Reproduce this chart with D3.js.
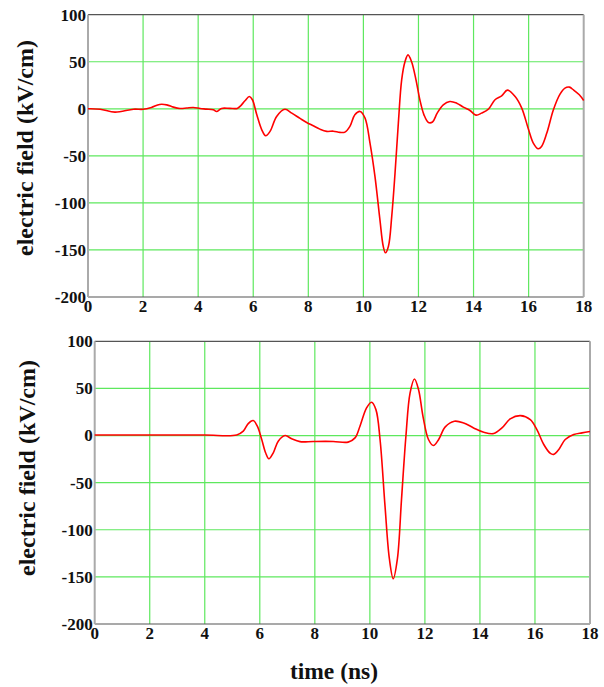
<!DOCTYPE html>
<html>
<head>
<meta charset="utf-8">
<script src="https://cdn.jsdelivr.net/npm/d3@7"></script>
<style>
  body { margin: 0; background: #fff; }
  svg text { font-family: "Liberation Serif", "Times New Roman", serif; font-weight: bold; fill: #111; }
</style>
</head>
<body>
<div id="chart"></div>
<script>

// ticks
const xTicks = [0, 2, 4, 6, 8, 10, 12, 14, 16, 18];
const yTicks = [100, 50, 0, -50, -100, -150, -200];

// top panel (measured), time in ns / field in kV/cm
const measuredT = [0, 0.44, 0.98, 1.65, 2.0, 2.3, 2.6, 2.86, 3.1, 3.34, 3.58, 3.82, 4.07, 4.3, 4.55, 4.67, 4.85, 5.15, 5.42,
  5.52, 5.7, 5.86, 5.97, 6.13, 6.31, 6.45, 6.61, 6.85, 7.15, 7.4, 7.7, 7.94, 8.18, 8.42, 8.67, 8.91, 9.15, 9.33, 9.51,
  9.69, 9.88, 10.06, 10.24, 10.42, 10.6, 10.72, 10.8, 10.91, 11.03, 11.15, 11.27, 11.39, 11.51, 11.62, 11.75, 11.91,
  12.05, 12.2, 12.36, 12.51, 12.68, 12.9, 13.14, 13.39, 13.63, 13.87, 14.09, 14.29, 14.54, 14.78, 15.02, 15.23, 15.51,
  15.75, 16.0, 16.17, 16.35, 16.47, 16.66, 16.9, 17.14, 17.32, 17.48, 17.63, 17.84, 18.0];
const measuredE = [0, -0.4, -3.5, -0.4, -0.5, 1.4, 4.6, 4.2, 1.8, 0.4, 0.8, 1.4, 0.4, -0.3, -1.1, -2.8, 0.4, 0.4, 0.4,
  2.5, 8.5, 13, 9.6, -6.4, -22.3, -28.7, -24, -8.1, -0.5, -4.6, -10.2, -14.5, -18, -21.6, -24, -23.8, -25.1, -24.8, -18.7,
  -6.4, -2.8, -9.9, -36.4, -71.8, -117.8, -146, -153, -146, -114, -68, -15, 30.8, 50, 57.3, 50, 30.8,
  9.6, -6.4, -14.5, -14, -4.6, 4.2, 7.8, 6, 1.8, -1.8, -6.7, -4.6, -0.4, 9.6, 13.8, 19.8, 13,
  0.7, -22.3, -36.4, -42.5, -40, -25.8, -1, 15.6, 22, 23, 20, 14.9, 8.8];

// bottom panel (computed)
const simulatedT = [0, 2, 4, 5.16, 5.4, 5.58, 5.76, 5.91, 6.07, 6.21, 6.33, 6.49, 6.67, 6.92, 7.16, 7.46, 7.94, 8.67,
  9.21, 9.46, 9.64, 9.88, 10.06, 10.22, 10.37, 10.55, 10.71, 10.85, 11.0, 11.15, 11.31, 11.46, 11.62, 11.77, 11.93,
  12.13, 12.31, 12.5, 12.74, 13.07, 13.41, 13.77, 14.14, 14.5, 14.8, 15.1, 15.47, 15.83, 16.07, 16.32, 16.56, 16.68,
  16.86, 17.1, 17.41, 17.71, 18.0];
const simulatedE = [0.5, 0.5, 0.5, 0.6, 4.6, 12.7, 15.9, 9.9, -4.2, -18.3, -24.7, -18.3, -6, 0, -3.5, -6.5, -6.3, -6.3,
  -7, -2.5, 9.9, 29.3, 35.3, 27.5, -4.2, -74.7, -131, -152, -131, -67.7, -0.7, 45, 60, 48.6, 20.4,
  -4.2, -10.6, -4.2, 9.2, 15.2, 13.4, 8.1, 3.5, 2.1, 8.1, 17.6, 21.1, 16.9, 6.3, -9.5, -19, -20,
  -15, -4.2, 1, 2.8, 4.2];

const yLabel = "electric field (kV/cm)";
const xLabel = "time (ns)";

const svg = d3.select("#chart").append("svg")
    .attr("width", 604)
    .attr("height", 687);

function drawPanel(box, ts, es, labelPos) {
    const x = d3.scaleLinear().domain([0, 18]).range([box.left, box.right]);
    const y = d3.scaleLinear().domain([-200, 100]).range([box.bottom, box.top]);

    const g = svg.append("g");

    // grid
    g.selectAll(".gx")
        .data(xTicks.filter(d => d > 0 && d < 18))
        .enter().append("line")
        .attr("x1", d => x(d)).attr("x2", d => x(d))
        .attr("y1", box.top).attr("y2", box.bottom)
        .attr("stroke", "#5ee85e").attr("stroke-width", 1.2);

    g.selectAll(".gy")
        .data(yTicks.filter(d => d > -200 && d < 100))
        .enter().append("line")
        .attr("x1", box.left).attr("x2", box.right)
        .attr("y1", d => y(d)).attr("y2", d => y(d))
        .attr("stroke", "#5ee85e").attr("stroke-width", 1.2);

    // frame
    g.append("line").attr("x1", box.left).attr("x2", box.right).attr("y1", box.top).attr("y2", box.top)
        .attr("stroke", "#555").attr("stroke-width", 1.2);
    g.append("line").attr("x1", box.left).attr("x2", box.right).attr("y1", box.bottom).attr("y2", box.bottom)
        .attr("stroke", "#555").attr("stroke-width", 1.2);
    g.append("line").attr("x1", box.left).attr("x2", box.left).attr("y1", box.top).attr("y2", box.bottom)
        .attr("stroke", "#aaa").attr("stroke-width", 2);
    g.append("line").attr("x1", box.right).attr("x2", box.right).attr("y1", box.top).attr("y2", box.bottom)
        .attr("stroke", "#aaa").attr("stroke-width", 2);

    // curve
    const pts = ts.map((t, i) => [t, es[i]]);
    const line = d3.line()
        .x(d => x(d[0]))
        .y(d => y(d[1]))
        .curve(d3.curveCatmullRom.alpha(0.5));

    g.append("path")
        .datum(pts)
        .attr("d", line)
        .attr("fill", "none")
        .attr("stroke", "#f00")
        .attr("stroke-width", 1.6);

    // tick labels
    g.selectAll(".ty")
        .data(yTicks)
        .enter().append("text")
        .attr("x", box.left - 2)
        .attr("y", d => y(d))
        .attr("dy", "0.35em")
        .attr("text-anchor", "end")
        .attr("font-size", 17)
        .text(d => d);

    g.selectAll(".tx")
        .data(xTicks)
        .enter().append("text")
        .attr("x", d => x(d))
        .attr("y", box.bottom + 15)
        .attr("text-anchor", "middle")
        .attr("font-size", 17)
        .text(d => d);

    g.append("text")
        .attr("transform", `translate(${labelPos[0]},${labelPos[1]}) rotate(-90)`)
        .attr("text-anchor", "middle")
        .attr("font-size", 24)
        .text(yLabel);
}

drawPanel({ left: 88, right: 583.7, top: 14.7, bottom: 297 }, measuredT, measuredE, [33, 148]);
drawPanel({ left: 94.7, right: 590, top: 341.3, bottom: 624 }, simulatedT, simulatedE, [35, 468]);

svg.append("text")
    .attr("x", 334)
    .attr("y", 679)
    .attr("text-anchor", "middle")
    .attr("font-size", 23.5)
    .text(xLabel);

</script>
</body>
</html>
